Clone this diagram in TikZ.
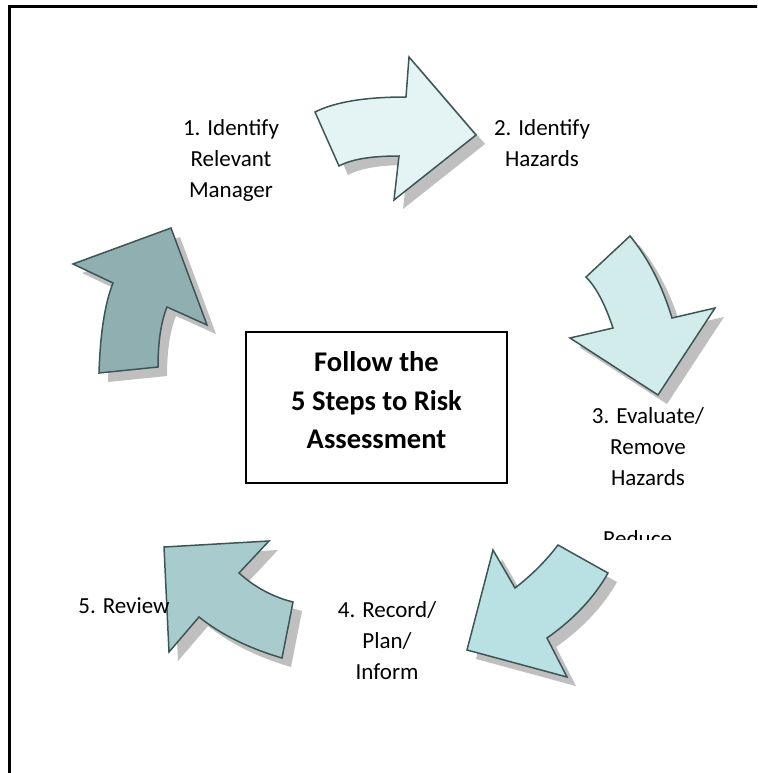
\documentclass[tikz,border=0pt]{standalone}
\usepackage{fontspec}
\setmainfont{Carlito}
\definecolor{arrowline}{HTML}{3F5555}
\definecolor{shadowgray}{HTML}{BFBFBF}
\definecolor{stepone}{HTML}{E4F4F4}
\definecolor{steptwo}{HTML}{D2ECEC}
\definecolor{stepthree}{HTML}{B9E0E3}
\definecolor{stepfour}{HTML}{A8CBCE}
\definecolor{stepfive}{HTML}{8FAFB1}
\tikzset{
  steparrow/.style={draw=arrowline, line width=1.5pt, fill=#1,
    preaction={fill=shadowgray, draw=none, transform canvas={xshift=9pt, yshift=-9pt}}},
  steplabel/.style={font=\fontsize{23}{31}\selectfont, align=center, inner sep=0pt},
}
\begin{document}
\begin{tikzpicture}[x=1pt, y=-1pt]
\useasboundingbox (0,0) rectangle (757,773);
\clip (0,0) rectangle (757,773);
\fill[white] (0,0) rectangle (757,773);
\draw[line width=3.5pt] (800,6.5) -- (9.5,6.5) -- (9.5,800);
\draw[steparrow=stepone] (315,112) .. controls (335,102) and (365,97) .. (406,97) -- (409,57) -- (476,135) -- (394,200) -- (399,156) .. controls (372,156) and (352,159) .. (339,166) -- cycle;
\draw[steparrow=steptwo] (586,277) -- (630,236) .. controls (648,258) and (662,285) .. (672,318) -- (715,308) -- (658,395) -- (570,338) -- (613,328) .. controls (605,304) and (596,287) .. (586,277) -- cycle;
\draw[steparrow=stepthree] (558,545) -- (608,573) .. controls (594.5,597) and (574,619) .. (547,638) -- (567,677) -- (467,650) -- (493,550) -- (515,588) .. controls (531.5,575.3) and (545.9,560.9) .. (558,545) -- cycle;
\draw[steparrow=stepfour] (164,547) -- (269,541) -- (239,573) .. controls (255,587.4) and (273,597) .. (293,602) -- (282,658) .. controls (248,648) and (220.5,634.2) .. (199,617) -- (169,652) -- cycle;
\draw[steparrow=stepfive] (73,264) -- (171,228) -- (207,325) -- (167,307) .. controls (161,322) and (158,342) .. (158,367) -- (99,373) .. controls (100.2,333.3) and (104.9,303.3) .. (113,283) -- cycle;
\node[steplabel] (identify) at (231,160) {1. Identify\\Relevant\\Manager};
\node[steplabel] (hazards) at (542,143) {2. Identify\\Hazards};
\node[steplabel] (evaluate) at (648,447) {3. Evaluate/\\Remove\\Hazards};
\node[steplabel] (record) at (387,641) {4. Record/\\Plan/\\Inform};
\node[steplabel] (review) at (124,606) {5. Review};
\begin{scope}
\clip (560,520) rectangle (720,539.5);
\node[steplabel, anchor=base] (reduce) at (637.5,546.6) {Reduce};
\end{scope}
\node[draw, line width=2pt, minimum width=261pt, minimum height=151pt] (titlebox) at (376.5,407.5) {};
\node[font=\bfseries\fontsize{28.5}{38.5}\selectfont, align=center] (title) at (376.5,400.5) {Follow the\\5 Steps to Risk\\Assessment};
\end{tikzpicture}
\end{document}
